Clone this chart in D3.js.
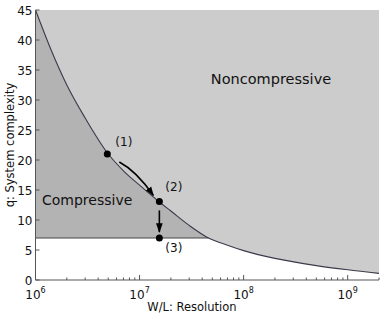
<!DOCTYPE html>
<html lang="en">
<head>
<meta charset="UTF-8">
<title>Compressive regime</title>
<style>
  body { margin: 0; background: #fff; }
  text { font-family: "DejaVu Sans", sans-serif; }
</style>
</head>
<body>
<svg id="chart" width="382" height="315"></svg>
<script src="https://cdn.jsdelivr.net/npm/d3@7"></script>
<script>
// boundary curve (W/L, q)
var boundaryWL = [1e6, 1.4e6, 2e6, 3e6, 5e6, 7e6, 1e7, 1.55e7, 2e7, 3e7, 4.6e7, 7e7, 1e8, 2e8, 5e8, 1e9, 2e9];
var boundaryQ  = [45, 38.5, 32.5, 27, 21, 18.2, 15.8, 13, 11.5, 9.1, 7, 5.8, 4.9, 3.6, 2.4, 1.7, 1.1];
var qThreshold = 7;
var stepWL = [4.9e6, 1.55e7, 1.55e7];
var stepQ  = [21, 13.1, 7];
var stepLabels = ["(1)", "(2)", "(3)"];
var yTicks = [0, 5, 10, 15, 20, 25, 30, 35, 40, 45];
var xDecades = [6, 7, 8, 9];

var svg = d3.select("#chart");
var mLeft = 35.5, mRight = 379, mTop = 10, mBottom = 280;

var x = d3.scaleLog().domain([1e6, 2e9]).range([mLeft, mRight]);
var y = d3.scaleLinear().domain([0, 45]).range([mBottom, mTop]);

var pts = boundaryWL.map(function(w, i) { return [w, boundaryQ[i]]; });
var curve = d3.line()
    .x(function(d) { return x(d[0]); })
    .y(function(d) { return y(d[1]); })
    .curve(d3.curveMonotoneX);

// noncompressive background
svg.append("rect")
    .attr("x", mLeft).attr("y", mTop)
    .attr("width", mRight - mLeft).attr("height", mBottom - mTop)
    .attr("fill", "#cccccc");

// white area under the curve
var under = d3.area()
    .x(function(d) { return x(d[0]); })
    .y0(y(0))
    .y1(function(d) { return y(d[1]); })
    .curve(d3.curveMonotoneX);
svg.append("path").datum(pts).attr("d", under).attr("fill", "#ffffff");

// compressive region: under curve, above threshold
svg.append("clipPath").attr("id", "aboveT")
  .append("rect")
    .attr("x", mLeft).attr("y", mTop)
    .attr("width", mRight - mLeft).attr("height", y(qThreshold) - mTop);
svg.append("path").datum(pts).attr("d", under)
    .attr("fill", "#b3b3b3")
    .attr("clip-path", "url(#aboveT)");

// threshold line
var crossWL = 4.6e7;
svg.append("line")
    .attr("x1", x(1e6)).attr("x2", x(crossWL))
    .attr("y1", y(qThreshold)).attr("y2", y(qThreshold))
    .attr("stroke", "#444").attr("stroke-width", 1);

// boundary
svg.append("path").datum(pts).attr("d", curve)
    .attr("fill", "none").attr("stroke", "#3a3a4a").attr("stroke-width", 1.1);

// axes
var axisColor = "#555";
var xAxis = svg.append("g").attr("transform", "translate(0," + mBottom + ")");
xAxis.append("line").attr("x1", mLeft).attr("x2", mRight).attr("stroke", axisColor);
var minor = [];
for (var e = 6; e <= 9; e++) {
  for (var m = 1; m <= 9; m++) {
    var v = m * Math.pow(10, e);
    if (v <= 2e9) minor.push(v);
  }
}
xAxis.selectAll(".tk").data(minor).enter().append("line")
    .attr("x1", function(d) { return x(d); }).attr("x2", function(d) { return x(d); })
    .attr("y1", 0).attr("y2", function(d) {
      return Math.abs(Math.log10(d) - Math.round(Math.log10(d))) < 1e-9 ? -5 : -2.5;
    })
    .attr("stroke", axisColor);
var xl = xAxis.selectAll(".xl").data(xDecades).enter().append("text")
    .attr("x", function(d) { return x(Math.pow(10, d)); })
    .attr("y", 19)
    .attr("text-anchor", "middle")
    .attr("font-size", 12).attr("fill", "#111");
xl.append("tspan").text("10");
xl.append("tspan").attr("dy", -6).attr("font-size", 8).text(function(d) { return d; });

var yAxis = svg.append("g").attr("transform", "translate(" + mLeft + ",0)");
yAxis.append("line").attr("y1", mTop).attr("y2", mBottom).attr("stroke", axisColor);
yAxis.selectAll(".yt").data(yTicks).enter().append("line")
    .attr("x1", 0).attr("x2", 4)
    .attr("y1", function(d) { return y(d); }).attr("y2", function(d) { return y(d); })
    .attr("stroke", axisColor);
yAxis.selectAll(".yl").data(yTicks).enter().append("text")
    .attr("x", -3).attr("y", function(d) { return y(d) + 4.5; })
    .attr("text-anchor", "end")
    .attr("font-size", 12).attr("fill", "#111")
    .text(function(d) { return d; });

svg.append("text")
    .attr("x", 192).attr("y", 311)
    .attr("text-anchor", "middle").attr("font-size", 11.5).attr("fill", "#111")
    .text("W/L: Resolution");
svg.append("text")
    .attr("transform", "translate(14," + ((mTop + mBottom) / 2) + ") rotate(-90)")
    .attr("text-anchor", "middle").attr("font-size", 11.5).attr("fill", "#111")
    .text("q: System complexity");

// region labels
svg.append("text").attr("x", 271).attr("y", 84)
    .attr("text-anchor", "middle").attr("font-size", 14.5)
    .attr("font-family", "Liberation Sans, Arial, sans-serif").attr("fill", "#111")
    .text("Noncompressive");
svg.append("text").attr("x", 42).attr("y", 205)
    .attr("font-size", 14)
    .attr("font-family", "Liberation Sans, Arial, sans-serif").attr("fill", "#111")
    .text("Compressive");

// arrows
var defs = svg.append("defs");
defs.append("marker").attr("id", "head")
    .attr("viewBox", "0 0 10 10").attr("refX", 9).attr("refY", 5)
    .attr("markerWidth", 6).attr("markerHeight", 6)
    .attr("orient", "auto")
  .append("path").attr("d", "M0,1.5 L10,5 L0,8.5 Z").attr("fill", "#000");

var p1 = [x(stepWL[0]), y(stepQ[0])];
var p2 = [x(stepWL[1]), y(stepQ[1])];
var p3 = [x(stepWL[2]), y(stepQ[2])];
svg.append("path")
    .attr("d", "M" + (p1[0] + 12) + "," + (p1[1] + 8) +
      " Q" + (p1[0] + 29) + "," + (p1[1] + 17) + " " + (p2[0] - 6) + "," + (p2[1] - 6))
    .attr("fill", "none").attr("stroke", "#000").attr("stroke-width", 1.6)
    .attr("marker-end", "url(#head)");
svg.append("line")
    .attr("x1", p2[0]).attr("x2", p2[0])
    .attr("y1", p2[1] + 9).attr("y2", p3[1] - 6)
    .attr("stroke", "#000").attr("stroke-width", 1.6)
    .attr("marker-end", "url(#head)");

// points
svg.selectAll(".pt").data(stepWL).enter().append("circle")
    .attr("cx", function(d) { return x(d); })
    .attr("cy", function(d, i) { return y(stepQ[i]); })
    .attr("r", 3.5).attr("fill", "#000");
var labOff = [[8, -8], [6, -10], [6, 14]];
svg.selectAll(".pl").data(stepLabels).enter().append("text")
    .attr("x", function(d, i) { return x(stepWL[i]) + labOff[i][0]; })
    .attr("y", function(d, i) { return y(stepQ[i]) + labOff[i][1]; })
    .attr("font-size", 12).attr("fill", "#111")
    .attr("font-family", "Liberation Sans, Arial, sans-serif")
    .text(function(d) { return d; });
</script>
</body>
</html>
